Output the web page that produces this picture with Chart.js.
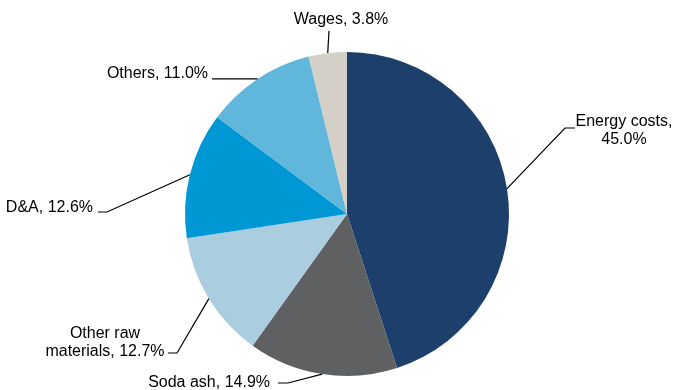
<!DOCTYPE html>
<html>
<head>
<meta charset="utf-8">
<script src="https://cdn.jsdelivr.net/npm/chart.js@4/dist/chart.umd.min.js"></script>
<style>
  html, body { margin: 0; padding: 0; background: #fff; }
  #wrap { width: 673px; height: 390px; position: relative; }
</style>
</head>
<body>
<div id="wrap"><canvas id="mycanvas"></canvas></div>
<script>
var categories = ["Energy costs", "Soda ash", "Other raw materials", "D&A", "Others", "Wages"];
var shares = [45.0, 14.9, 12.7, 12.6, 11.0, 3.8];
var colors = ["#1c3f6c", "#5f6062", "#abcde0", "#0098d4", "#60b6db", "#d4d0c8"];
var labelText = [
	["Energy costs,", "45.0%"],
	["Soda ash, 14.9%"],
	["Other raw", "materials, 12.7%"],
	["D&A, 12.6%"],
	["Others, 11.0%"],
	["Wages, 3.8%"]
];

// leader line elbows / ends and text anchors (pixels on the canvas)
var labelLayout = [
	{ elbow: [565, 128], end: [575, 128], tx: 624, ty: 122, align: "center" },
	{ elbow: [288, 383], end: [278, 383], tx: 270, ty: 383, align: "right" },
	{ elbow: [177, 353], end: [168, 353], tx: 105, ty: 334, align: "center" },
	{ elbow: [107, 212], end: [98, 212], tx: 93, ty: 208, align: "right" },
	{ elbow: null, end: [212, 79], tx: 208, ty: 74, align: "right" },
	{ elbow: null, end: [329, 31], tx: 341, ty: 20, align: "center" }
];

var leaderLabels = {
	id: "leaderLabels",
	afterDatasetsDraw: function(chart) {
		var ctx = chart.ctx;
		var meta = chart.getDatasetMeta(0);
		ctx.save();
		ctx.strokeStyle = "#000";
		ctx.lineWidth = 1.2;
		ctx.fillStyle = "#000";
		ctx.font = "16px 'Liberation Sans', Arial, sans-serif";
		ctx.textBaseline = "middle";
		meta.data.forEach(function(arc, i) {
			var p = arc.getProps(["x", "y", "startAngle", "endAngle", "outerRadius"], true);
			var mid = (p.startAngle + p.endAngle) / 2;
			var sx = p.x + p.outerRadius * Math.cos(mid);
			var sy = p.y + p.outerRadius * Math.sin(mid);
			var L = labelLayout[i];
			ctx.beginPath();
			ctx.moveTo(sx, sy);
			if (L.elbow) ctx.lineTo(L.elbow[0], L.elbow[1]);
			if (i === 5) ctx.lineTo(L.end[0], L.end[1]);
			else if (!L.elbow) ctx.lineTo(L.end[0], sy);
			else ctx.lineTo(L.end[0], L.end[1]);
			ctx.stroke();
			ctx.textAlign = L.align;
			var lines = labelText[i];
			for (var k = 0; k < lines.length; k++) {
				ctx.fillText(lines[k], L.tx, L.ty + k * 18);
			}
		});
		ctx.restore();
	}
};

var chartdata = {
	labels: categories,
	datasets: [{
		data: shares,
		backgroundColor: colors,
		borderWidth: 0
	}]
};

var LineGraph = new Chart(document.getElementById("mycanvas"), {
	type: "pie",
	data: chartdata,
	options: {
		responsive: true,
		maintainAspectRatio: false,
		animation: false,
		layout: { padding: { left: 185, right: 164, top: 52, bottom: 14 } },
		plugins: {
			legend: { display: false },
			tooltip: { enabled: false }
		}
	},
	plugins: [leaderLabels]
});
</script>
</body>
</html>
